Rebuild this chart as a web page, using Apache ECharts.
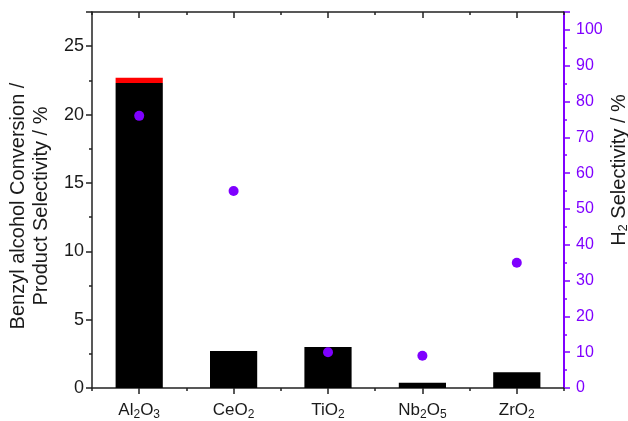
<!DOCTYPE html>
<html>
<head>
<meta charset="utf-8">
<script src="https://cdn.jsdelivr.net/npm/echarts@6/dist/echarts.min.js"></script>
<style>
html,body{margin:0;padding:0;background:#fff;}
#c{width:628px;height:421px;}
</style>
</head>
<body>
<div id="c"></div>
<script>
// ---- data ----
var categories = ['Al2O3', 'CeO2', 'TiO2', 'Nb2O5', 'ZrO2'];
var conversion = [22.3, 2.7, 3.0, 0.38, 1.16];      // black bars (left axis)
var otherProduct = [0.4, 0, 0, 0, 0];               // red stacked part (left axis)
var h2Selectivity = [76, 55, 10, 9, 35];            // purple dots (right axis)
var leftTicks = [0, 5, 10, 15, 20, 25];
var rightTicks = [0, 10, 20, 30, 40, 50, 60, 70, 80, 90, 100];

var PURPLE = '#7f00ff';
var FONT = 'Liberation Sans, Arial, sans-serif';

function sub(v) { return v.replace(/(\d+)/g, '{s|$1}'); }

var chart = echarts.init(document.getElementById('c'), null, {renderer: 'canvas'});

var labelRich = {
  s: {fontSize: 12, fontFamily: FONT, color: '#1a1a1a', verticalAlign: 'bottom', lineHeight: 10}
};

var option = {
  animation: false,
  backgroundColor: '#fff',
  grid: {left: 92, right: 64, top: 12, bottom: 29, containLabel: false},
  xAxis: [
    {
      type: 'category', data: categories, position: 'bottom', gridIndex: 0,
      axisLine: {show: true, lineStyle: {color: '#222', width: 1.5}},
      axisTick: {show: true, interval: 0, alignWithLabel: true, length: 6, inside: false, lineStyle: {color: '#222', width: 1.5}},
      axisLabel: {
        interval: 0, margin: 11, fontSize: 17, fontFamily: FONT, color: '#1a1a1a', lineHeight: 22,
        formatter: function (v) { return sub(v); }, rich: labelRich
      },
      splitLine: {show: false}
    },
    {
      type: 'category', data: categories, position: 'bottom', gridIndex: 0,
      axisLine: {show: false},
      axisTick: {show: true, interval: 0, alignWithLabel: false, length: 3, inside: false, lineStyle: {color: '#222', width: 1.5}},
      axisLabel: {show: false, interval: 0}, splitLine: {show: false}
    },
    {
      type: 'category', data: categories, position: 'top', gridIndex: 0,
      axisLine: {show: true, lineStyle: {color: '#222', width: 1.5}},
      axisTick: {show: true, interval: 0, alignWithLabel: true, length: 6, inside: true, lineStyle: {color: '#222', width: 1.5}},
      axisLabel: {show: false, interval: 0}, splitLine: {show: false}
    },
    {
      type: 'category', data: categories, position: 'top', gridIndex: 0,
      axisLine: {show: false},
      axisTick: {show: true, interval: 0, alignWithLabel: false, length: 3, inside: true, lineStyle: {color: '#222', width: 1.5}},
      axisLabel: {show: false, interval: 0}, splitLine: {show: false}
    }
  ],
  yAxis: [
    {
      type: 'value', position: 'left', min: 0, max: 27.5, interval: 5,
      axisLine: {show: true, lineStyle: {color: '#222', width: 1.5}},
      axisTick: {show: true, length: 6, inside: false, lineStyle: {color: '#222', width: 1.5}},
      minorTick: {show: true, splitNumber: 2, length: 3, lineStyle: {color: '#222', width: 1.5}},
      axisLabel: {
        margin: 8, fontSize: 18, fontFamily: FONT, color: '#1a1a1a', showMaxLabel: false,
        formatter: function (v) { return leftTicks.indexOf(v) >= 0 ? String(v) : ''; }
      },
      splitLine: {show: false}
    },
    {
      type: 'value', position: 'right', min: 0, max: 105, interval: 10,
      axisLine: {show: true, lineStyle: {color: PURPLE, width: 2}},
      axisTick: {show: true, length: 6, inside: false, lineStyle: {color: PURPLE, width: 1.5}},
      minorTick: {show: true, splitNumber: 2, length: 3, lineStyle: {color: PURPLE, width: 1.5}},
      axisLabel: {
        margin: 12, fontSize: 16, fontFamily: FONT, color: PURPLE, showMaxLabel: false,
        formatter: function (v) { return rightTicks.indexOf(v) >= 0 ? String(v) : ''; }
      },
      splitLine: {show: false}
    }
  ],
  series: [
    {
      name: 'Conversion', type: 'bar', xAxisIndex: 0, yAxisIndex: 0, stack: 'a',
      data: conversion, barWidth: '50%',
      itemStyle: {color: '#000'}
    },
    {
      name: 'Other', type: 'bar', xAxisIndex: 0, yAxisIndex: 0, stack: 'a',
      data: otherProduct, barWidth: '50%',
      itemStyle: {color: '#ff0000'}
    },
    {
      name: 'H2 Selectivity', type: 'scatter', xAxisIndex: 0, yAxisIndex: 1,
      data: h2Selectivity, symbol: 'circle', symbolSize: 10,
      itemStyle: {color: PURPLE, opacity: 1}
    }
  ],
  graphic: [
    {
      type: 'text', x: 30, y: 206, rotation: Math.PI / 2,
      style: {
        text: 'Benzyl alcohol Conversion /\nProduct Selectivity / %',
        fontSize: 20, fontFamily: FONT, fill: '#1a1a1a',
        align: 'center', verticalAlign: 'middle', lineHeight: 23
      }
    },
    {
      type: 'text', x: 619, y: 170, rotation: Math.PI / 2,
      style: {
        text: 'H{s|2} Selectivity / %',
        fontSize: 20, fontFamily: FONT, fill: '#1a1a1a',
        align: 'center', verticalAlign: 'middle', lineHeight: 22,
        rich: {s: {fontSize: 13, fontFamily: FONT, fill: '#1a1a1a', verticalAlign: 'bottom', lineHeight: 10}}
      }
    }
  ]
};
chart.setOption(option);
</script>
</body>
</html>
